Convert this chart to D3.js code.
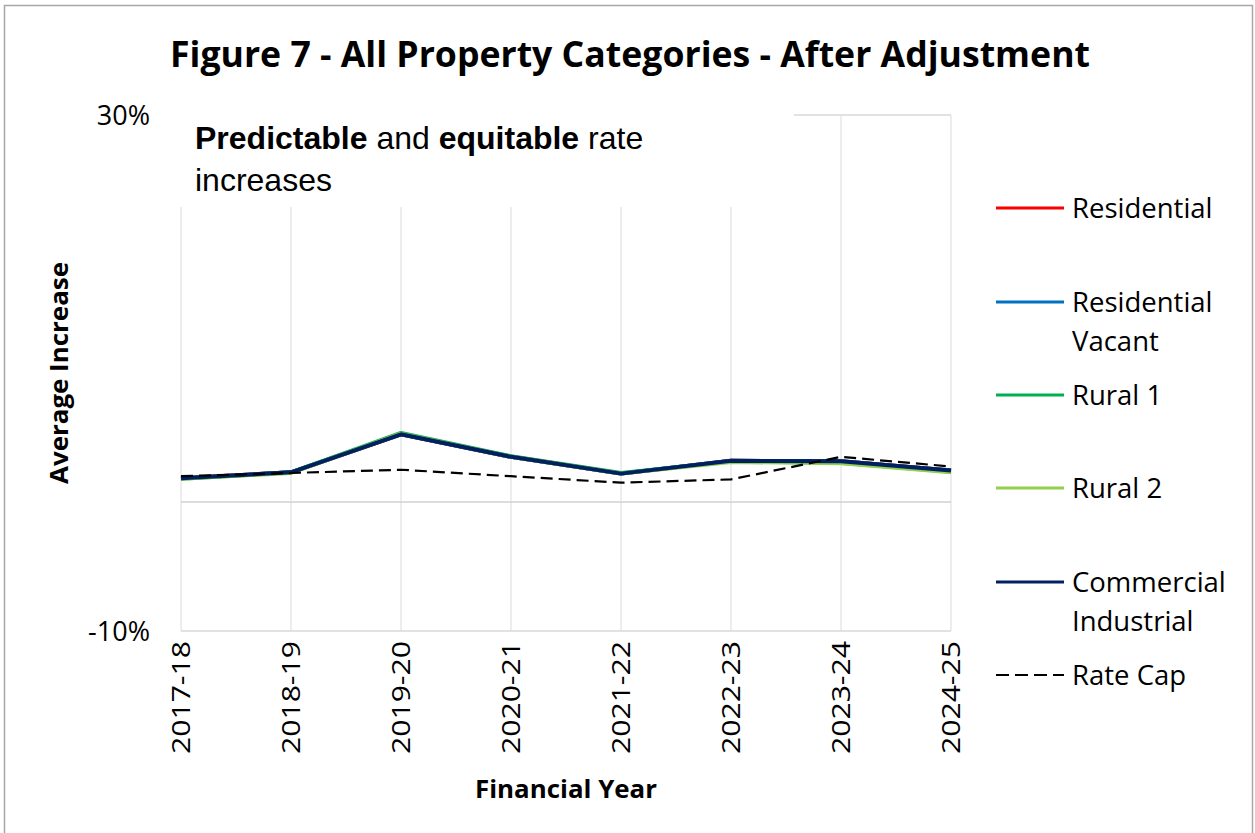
<!DOCTYPE html>
<html>
<head>
    <title>Figure 7 - All Property Categories - After Adjustment</title>
    <script src="https://d3js.org/d3.v7.min.js"></script>
    <style>
        body { margin: 0; background: #fff; }
        text { font-family: "Open Sans", sans-serif; fill: #000; }
    </style>
</head>
<body>
    <svg id="chart" width="1255" height="833"></svg>
    <script>
        const years = ["2017-18", "2018-19", "2019-20", "2020-21", "2021-22", "2022-23", "2023-24", "2024-25"];
        const residential = [1.85, 2.3, 5.25, 3.5, 2.2, 3.2, 3.15, 2.45];
        const residentialVacant = [1.85, 2.3, 5.25, 3.5, 2.2, 3.2, 3.15, 2.45];
        const rural1 = [1.8, 2.3, 5.35, 3.55, 2.25, 3.15, 3.05, 2.35];
        const rural2 = [1.8, 2.25, 5.3, 3.5, 2.2, 3.1, 3.0, 2.3];
        const commercialIndustrial = [1.85, 2.3, 5.25, 3.5, 2.2, 3.2, 3.15, 2.45];
        const rateCap = [2.0, 2.25, 2.5, 2.0, 1.5, 1.75, 3.5, 2.75];
        const yTicks = [-10, 30];

        const series = [
            { name: ["Residential"], values: residential, color: "#ff0000" },
            { name: ["Residential", "Vacant"], values: residentialVacant, color: "#0070c0" },
            { name: ["Rural 1"], values: rural1, color: "#00b050" },
            { name: ["Rural 2"], values: rural2, color: "#92d050" },
            { name: ["Commercial", "Industrial"], values: commercialIndustrial, color: "#002060" },
            { name: ["Rate Cap"], values: rateCap, color: "#000", dash: "12,6" }
        ];

        const svg = d3.select("#chart");
        const plotLeft = 181, plotRight = 951, plotTop = 115, plotBottom = 631;

        const x = d3.scalePoint().domain(years).range([plotLeft, plotRight]);
        const y = d3.scaleLinear().domain([-10, 30]).range([plotBottom, plotTop]);

        // outer border
        svg.append("rect").attr("x", 4.5).attr("y", 5.5).attr("width", 1248).attr("height", 840)
            .attr("fill", "none").attr("stroke", "#a6a6a6").attr("stroke-width", 1.5);

        svg.append("text").attr("x", 630).attr("y", 67).attr("text-anchor", "middle")
            .attr("font-size", 36).attr("font-weight", "bold")
            .attr("textLength", 920).attr("lengthAdjust", "spacingAndGlyphs")
            .text("Figure 7 - All Property Categories - After Adjustment");

        // gridlines
        svg.append("g").selectAll("line").data(years).join("line")
            .attr("x1", d => x(d)).attr("x2", d => x(d))
            .attr("y1", plotTop).attr("y2", plotBottom)
            .attr("stroke", "#e4e4e4").attr("stroke-width", 1.3);
        svg.append("g").selectAll("line").data(yTicks).join("line")
            .attr("x1", plotLeft).attr("x2", plotRight)
            .attr("y1", d => y(d)).attr("y2", d => y(d))
            .attr("stroke", "#d9d9d9").attr("stroke-width", 1.5);

        // y tick labels
        svg.append("g").selectAll("text").data(yTicks).join("text")
            .attr("x", 150).attr("y", d => y(d) + 10).attr("text-anchor", "end")
            .attr("font-size", 27).text(d => d + "%");

        // annotation box
        svg.append("rect").attr("x", 176).attr("y", 110).attr("width", 618).attr("height", 97).attr("fill", "#fff");
        const note = svg.append("text").attr("x", 195).attr("y", 149)
            .style("font-family", "'Liberation Sans', Arial, sans-serif").attr("font-size", 32);
        note.append("tspan").attr("font-weight", "bold").text("Predictable");
        note.append("tspan").text(" and ");
        note.append("tspan").attr("font-weight", "bold").text("equitable");
        note.append("tspan").text(" rate");
        svg.append("text").attr("x", 195).attr("y", 191)
            .style("font-family", "'Liberation Sans', Arial, sans-serif").attr("font-size", 32)
            .text("increases");

        // zero axis line
        svg.append("line").attr("x1", plotLeft).attr("x2", plotRight).attr("y1", y(0)).attr("y2", y(0))
            .attr("stroke", "#d0d0d0").attr("stroke-width", 1.6);

        // x tick labels (rotated)
        svg.append("g").selectAll("text").data(years).join("text")
            .attr("transform", d => `translate(${x(d) + 9},641) rotate(-90)`)
            .attr("text-anchor", "end").attr("font-size", 25)
            .attr("textLength", 113).attr("lengthAdjust", "spacingAndGlyphs")
            .text(d => d);

        // axis titles
        svg.append("text").attr("transform", "translate(68,373) rotate(-90)")
            .attr("text-anchor", "middle").attr("font-size", 25).attr("font-weight", "bold")
            .attr("textLength", 222).attr("lengthAdjust", "spacingAndGlyphs")
            .text("Average Increase");
        svg.append("text").attr("x", 566).attr("y", 798).attr("text-anchor", "middle")
            .attr("font-size", 25).attr("font-weight", "bold")
            .attr("textLength", 182).attr("lengthAdjust", "spacingAndGlyphs")
            .text("Financial Year");

        // lines
        const line = d3.line().x((d, i) => x(years[i])).y(d => y(d));
        svg.append("g").selectAll("path").data(series).join("path")
            .attr("d", d => line(d.values))
            .attr("fill", "none").attr("stroke", d => d.color)
            .attr("stroke-width", d => d.dash ? 2.2 : 4)
            .attr("stroke-dasharray", d => d.dash || null)
            .attr("stroke-linejoin", "round");

        // legend
        const legendY = [208, 302, 395, 488, 582, 675];
        const lg = svg.append("g").selectAll("g").data(series).join("g")
            .attr("transform", (d, i) => `translate(996,${legendY[i]})`);
        lg.append("line").attr("x1", 0).attr("x2", 68)
            .attr("stroke", d => d.color).attr("stroke-width", d => d.dash ? 2 : 3)
            .attr("stroke-dasharray", d => d.dash ? "13,6" : null);
        lg.append("text").attr("x", 76).attr("font-size", 27.5)
            .selectAll("tspan").data(d => d.name).join("tspan")
            .attr("x", 76).attr("y", (d, i) => 10 + i * 39)
            .text(d => d);
    </script>
</body>
</html>
